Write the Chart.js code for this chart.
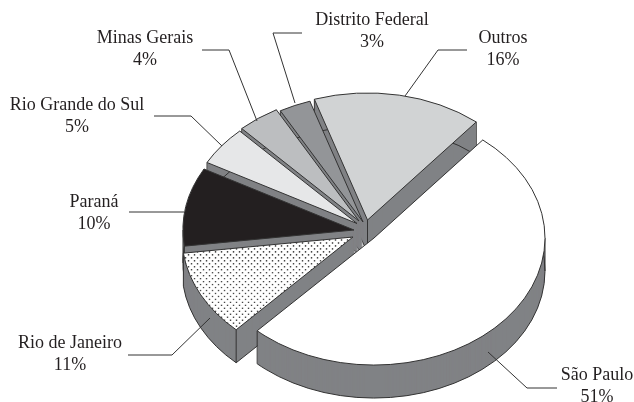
<!DOCTYPE html>
<html>
<head>
<meta charset="utf-8">
<script src="https://cdn.jsdelivr.net/npm/chart.js@4/dist/chart.umd.min.js"></script>
<style>html,body{margin:0;padding:0;background:#fff}#w{width:634px;height:402px}</style>
</head>
<body>
<div id="w"><canvas id="c" width="634" height="402"></canvas></div>
<script>
const categories = ['São Paulo','Rio de Janeiro','Paraná','Rio Grande do Sul','Minas Gerais','Distrito Federal','Outros'];
const shares = [51,11,10,5,4,3,16];
const faceColors = ['#ffffff','DOTS','#231f20','#e6e7e8','#bcbec0','#939598','#d1d3d4'];
// paint order, back to front
const paintOrder = [6,5,4,3,2,1,0];
// how far each slice is pulled out of the pie, px
const shiftX = [19,-2,-1,2,4,8,12.5];
const shiftY = [8,7,0,-6.5,-9,-8,-10];
// label anchors and leader lines, one per category
const labelX = [597,70,94,77,145,372,503];
const labelY = [375,343,202,105,38,20,38];
const leaders = [
  [[557,388],[527,388],[488,352]],
  [[128,355],[172,355],[210,318]],
  [[129,212],[184,212]],
  [[154,116],[191,116],[222,146]],
  [[202,50],[229,50],[257,121]],
  [[302,33],[273,33],[295,103]],
  [[467,50],[438,50],[405,96]]
];
const squash = 0.743, depth = 33, wall = '#808285', ink = '#333333';

function dots(){
  const t=document.createElement('canvas');t.width=6;t.height=Math.round(6/squash);
  const g=t.getContext('2d');g.fillStyle='#fff';g.fillRect(0,0,t.width,t.height);
  g.fillStyle='#333333';
  const h=t.height;
  [[1.5,h*0.25],[4.5,h*0.75]].forEach(p=>{g.beginPath();g.ellipse(p[0],p[1],0.8,0.8/squash,0,0,7);g.fill();});
  return g.createPattern(t,'repeat');
}
const fills = faceColors.map(c=>c==='DOTS'?dots():c);

const pie3d = {
  id:'pie3d',
  beforeDatasetsDraw(chart){
    const ctx=chart.ctx, arcs=chart.getDatasetMeta(0).data;
    paintOrder.forEach(i=>{
      const a=arcs[i], cx=a.x+shiftX[i], cy=a.y+shiftY[i], r=a.outerRadius;
      const s=a.startAngle, e=a.endAngle, ry=r*squash;
      const wedge=d=>{ctx.beginPath();ctx.moveTo(cx,cy+d);ctx.ellipse(cx,cy+d,r,ry,0,s,e);ctx.closePath();};
      const px=t=>cx+r*Math.cos(t), py=t=>cy+ry*Math.sin(t);
      ctx.save();
      ctx.fillStyle=wall;
      for(let d=depth;d>=1;d--){wedge(d);ctx.fill();}
      ctx.strokeStyle=ink;ctx.lineWidth=1;ctx.lineJoin='round';
      ctx.beginPath();ctx.ellipse(cx,cy+depth,r,ry,0,s,e);ctx.stroke();
      const seg=(x1,y1,x2,y2)=>{ctx.beginPath();ctx.moveTo(x1,y1);ctx.lineTo(x2,y2);ctx.stroke();};
      const startShows=Math.cos(s)<0, endShows=Math.cos(e)>0;
      if(startShows) seg(cx,cy+depth,px(s),py(s)+depth);
      if(endShows) seg(cx,cy+depth,px(e),py(e)+depth);
      if(startShows&&endShows) seg(cx,cy,cx,cy+depth);
      seg(px(s),py(s),px(s),py(s)+depth);
      seg(px(e),py(e),px(e),py(e)+depth);
      if(s<0&&e>0) seg(cx+r,cy,cx+r,cy+depth);
      if(s<Math.PI&&e>Math.PI) seg(cx-r,cy,cx-r,cy+depth);
      ctx.restore();
      ctx.save();
      ctx.translate(cx,cy);ctx.scale(1,squash);ctx.translate(-a.x,-a.y);
      a.draw(ctx);
      ctx.restore();
      ctx.save();
      ctx.strokeStyle=ink;ctx.lineWidth=1;ctx.lineJoin='round';
      wedge(0);ctx.stroke();
      ctx.restore();
    });
    return false;
  },
  afterDraw(chart){
    const ctx=chart.ctx;
    ctx.save();
    ctx.strokeStyle='#333';ctx.lineWidth=1;
    leaders.forEach(l=>{ctx.beginPath();l.forEach((p,j)=>j?ctx.lineTo(p[0],p[1]):ctx.moveTo(p[0],p[1]));ctx.stroke();});
    ctx.fillStyle='#231f20';ctx.textAlign='center';ctx.textBaseline='middle';
    ctx.font='18px "Liberation Serif"';
    categories.forEach((n,i)=>{
      ctx.fillText(n,labelX[i],labelY[i]);
      ctx.fillText(shares[i]+'%',labelX[i],labelY[i]+22);
    });
    ctx.restore();
  }
};

new Chart(document.getElementById('c'),{
  type:'pie',
  data:{labels:categories,datasets:[{data:shares,backgroundColor:fills,borderWidth:0,hoverOffset:0}]},
  options:{
    responsive:false,animation:false,rotation:39.5,
    layout:{padding:{left:184,right:108,top:59,bottom:1}},
    plugins:{legend:{display:false},tooltip:{enabled:false},title:{display:false}}
  },
  plugins:[pie3d]
});
</script>
</body>
</html>
